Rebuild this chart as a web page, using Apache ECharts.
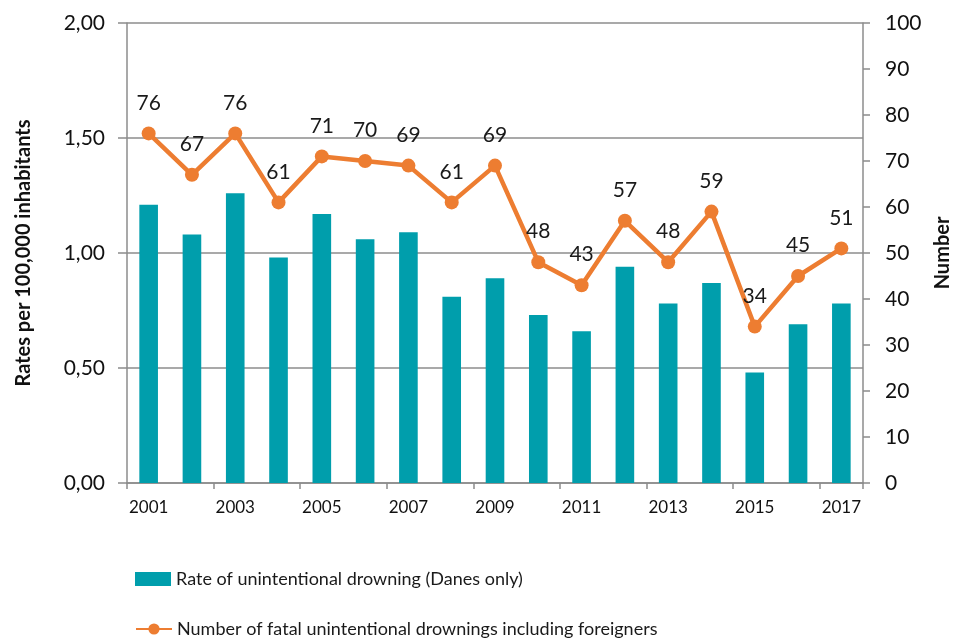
<!DOCTYPE html>
<html>
<head>
<meta charset="utf-8">
<script src="https://cdn.jsdelivr.net/npm/echarts@6/dist/echarts.min.js"></script>
<style>
  html, body { margin: 0; padding: 0; background: #fff; }
  #chart { width: 953px; height: 640px; }
</style>
</head>
<body>
<div id="chart"></div>
<script>
const years = ['2001', '2002', '2003', '2004', '2005', '2006', '2007', '2008', '2009',
    '2010', '2011', '2012', '2013', '2014', '2015', '2016', '2017'];
const rates = [1.21, 1.08, 1.26, 0.98, 1.17, 1.06, 1.09, 0.81, 0.89,
    0.73, 0.66, 0.94, 0.78, 0.87, 0.48, 0.69, 0.78];
const deaths = [76, 67, 76, 61, 71, 70, 69, 61, 69, 48, 43, 57, 48, 59, 34, 45, 51];

const barName = 'Rate of unintentional drowning (Danes only)';
const lineName = 'Number of fatal unintentional drownings including foreigners';

const font = 'Lato';
const axisGray = '#8c8c8c';
const legendText = { fontSize: 18, color: '#1a1a1a', fontFamily: font };

const myChart = echarts.init(document.getElementById('chart'));
const option = {
    animation: false,
    textStyle: { fontFamily: font },
    grid: { left: 127, right: 90, top: 23, bottom: 157, outerBoundsMode: 'none', containLabel: false },
    legend: [{
        left: 130, top: 565,
        itemWidth: 36, itemHeight: 14,
        textStyle: legendText,
        data: [{ name: barName, icon: 'rect' }]
    }, {
        left: 130, top: 615,
        itemWidth: 36, itemHeight: 14,
        textStyle: legendText,
        data: [lineName]
    }],
    xAxis: {
        type: 'category',
        data: years,
        axisLine: { lineStyle: { color: axisGray, width: 1.5 } },
        axisTick: { show: true, length: 6, lineStyle: { color: axisGray, width: 1.5 } },
        axisLabel: { interval: 1, fontSize: 17, color: '#111', margin: 16 }
    },
    yAxis: [{
        type: 'value',
        min: 0, max: 2, interval: 0.5,
        name: 'Rates per 100,000 inhabitants',
        nameLocation: 'middle',
        nameGap: 93,
        nameTextStyle: { fontSize: 20, fontWeight: 'bold', color: '#111' },
        axisLine: { show: true, lineStyle: { color: axisGray, width: 1.5 } },
        axisTick: { show: true, length: 9, lineStyle: { color: axisGray, width: 1.5 } },
        axisLabel: {
            fontSize: 21, color: '#111', margin: 22,
            formatter: v => v.toFixed(2).replace('.', ',')
        },
        splitLine: { lineStyle: { color: axisGray, width: 1.5 } }
    }, {
        type: 'value',
        min: 0, max: 100, interval: 10,
        name: 'Number',
        nameLocation: 'middle',
        nameGap: 70,
        nameTextStyle: { fontSize: 20, fontWeight: 'bold', color: '#111' },
        axisLine: { show: true, lineStyle: { color: axisGray, width: 1.5 } },
        axisTick: { show: true, length: 7, lineStyle: { color: axisGray, width: 1.5 } },
        axisLabel: { fontSize: 21, color: '#111', margin: 22 },
        splitLine: { show: false }
    }],
    series: [{
        name: barName,
        type: 'bar',
        yAxisIndex: 0,
        barWidth: '43%',
        itemStyle: { color: '#009EAC' },
        data: rates
    }, {
        name: lineName,
        type: 'line',
        yAxisIndex: 1,
        symbol: 'circle',
        symbolSize: 14,
        lineStyle: { color: '#ED7D31', width: 4.5 },
        itemStyle: { color: '#ED7D31' },
        label: { show: true, position: 'top', distance: 13, fontSize: 21, color: '#1a1a1a' },
        data: deaths
    }]
};
myChart.setOption(option);
window.addEventListener('resize', () => myChart.resize());
</script>
</body>
</html>
